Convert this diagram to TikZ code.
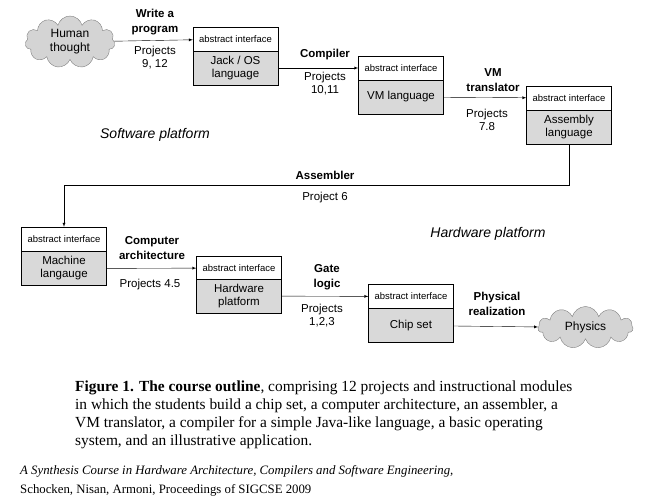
\documentclass[tikz,border=0pt]{standalone}
\usepackage{fontspec}
\setmainfont{Liberation Sans}
\newfontfamily\captionfont{Liberation Serif}
\usepackage{tikz}
\usetikzlibrary{shapes,shapes.symbols,arrows,positioning}
\definecolor{boxgray}{HTML}{D9D9D9}
\definecolor{cloudgray}{HTML}{D4D4D4}

\begin{document}
\begin{tikzpicture}[x=1pt,y=-1pt]
			\tikzstyle{Iface}	= [draw, fill=white, minimum width=85pt, minimum height=24pt, inner sep=0pt, font=\fontsize{9.5}{10}\selectfont]
			\tikzstyle{Level}	= [draw, fill=boxgray, minimum width=85pt, minimum height=34pt, inner sep=0pt, align=center, font=\fontsize{11.5}{13}\selectfont]
			\tikzstyle{Thought}	= [cloud, cloud puffs=11, cloud ignores aspect, draw=gray, fill=cloudgray, inner sep=0pt, align=center, font=\fontsize{12}{14}\selectfont]
			\tikzstyle{Step}	= [align=center, font=\bfseries\fontsize{11.5}{15}\selectfont]
			\tikzstyle{Proj}	= [align=center, font=\fontsize{11.5}{13}\selectfont]
			\tikzstyle{Platform}	= [font=\itshape\fontsize{14}{16}\selectfont]
			\tikzstyle{Link}	= [->, >=latex, thin]
			
			\useasboundingbox (0,0) rectangle (656,499);
			
			\node (human) at (70,42) [Thought, minimum width=90pt, minimum height=52pt] {Human\\thought};
			\node (jackTop) at (235.5,39) [Iface] {abstract interface};
			\node (jack) at (235.5,68) [Level] {Jack / OS\\language};
			\node (vmTop) at (401,68) [Iface] {abstract interface};
			\node (vm) at (401,97) [Level] {VM language};
			\node (asmTop) at (569,98) [Iface] {abstract interface};
			\node (asm) at (569,127) [Level] {Assembly\\language};
			\node (machTop) at (64,239) [Iface] {abstract interface};
			\node (mach) at (64,268.5) [Level] {Machine\\langauge};
			\node (hwTop) at (239,268) [Iface] {abstract interface};
			\node (hw) at (239,296) [Level] {Hardware\\platform};
			\node (chipTop) at (411,296.5) [Iface] {abstract interface};
			\node (chip) at (411,325.5) [Level] {Chip set};
			\node (physics) at (585.5,327.5) [Thought, minimum width=95pt, minimum height=42pt] {Physics};
			
			\node (write) at (155,22) [Step] {Write a\\program};
			\node (proj912) at (155,58) [Proj] {Projects\\9, 12};
			\node (compiler) at (325,55) [Step] {Compiler};
			\node (proj1011) at (325,84) [Proj] {Projects\\10,11};
			\node (vmtrans) at (493,80.5) [Step] {VM\\translator};
			\node (proj78) at (487,120) [Proj] {Projects\\7.8};
			\node (assembler) at (325,175) [Step] {Assembler};
			\node (proj6) at (325,198) [Proj] {Project 6};
			\node (comparch) at (152,248.5) [Step] {Computer\\architecture};
			\node (proj45) at (150,285) [Proj] {Projects 4.5};
			\node (gate) at (327,277) [Step] {Gate\\logic};
			\node (proj123) at (322,316) [Proj] {Projects\\1,2,3};
			\node (physical) at (497,303.5) [Step] {Physical\\realization};
			
			\node (software) at (155,135) [Platform] {Software platform};
			\node (hardware) at (488,234) [Platform] {Hardware platform};
			
			\draw [Link] (human) to (jackTop);
			\draw [Link] (jack) to (vmTop);
			\draw [Link] (vm) to (asmTop);
			\draw [Link] (asm.south) -- ++(0,41) -| (machTop.north);
			\draw [Link] (mach) to (hwTop);
			\draw [Link] (hw) to (chipTop);
			\draw [Link] (chip) to (physics);
			
			\node (caption) at (75,381) [anchor=north west, inner sep=0pt, align=left, font=\captionfont\fontsize{15.4}{18}\selectfont]
				{\textbf{Figure 1. The course outline}, comprising 12 projects and instructional modules\\
				in which the students build a chip set, a computer architecture, an assembler, a\\
				VM translator, a compiler for a simple Java-like language, a basic operating\\
				system, and an illustrative application.};
			\node (source) at (20,465) [anchor=north west, inner sep=0pt, align=left, font=\captionfont\fontsize{12.8}{19}\selectfont]
				{\textit{A Synthesis Course in Hardware Architecture, Compilers and Software Engineering,}\\
				Schocken, Nisan, Armoni, Proceedings of SIGCSE 2009};
\end{tikzpicture}
\end{document}
